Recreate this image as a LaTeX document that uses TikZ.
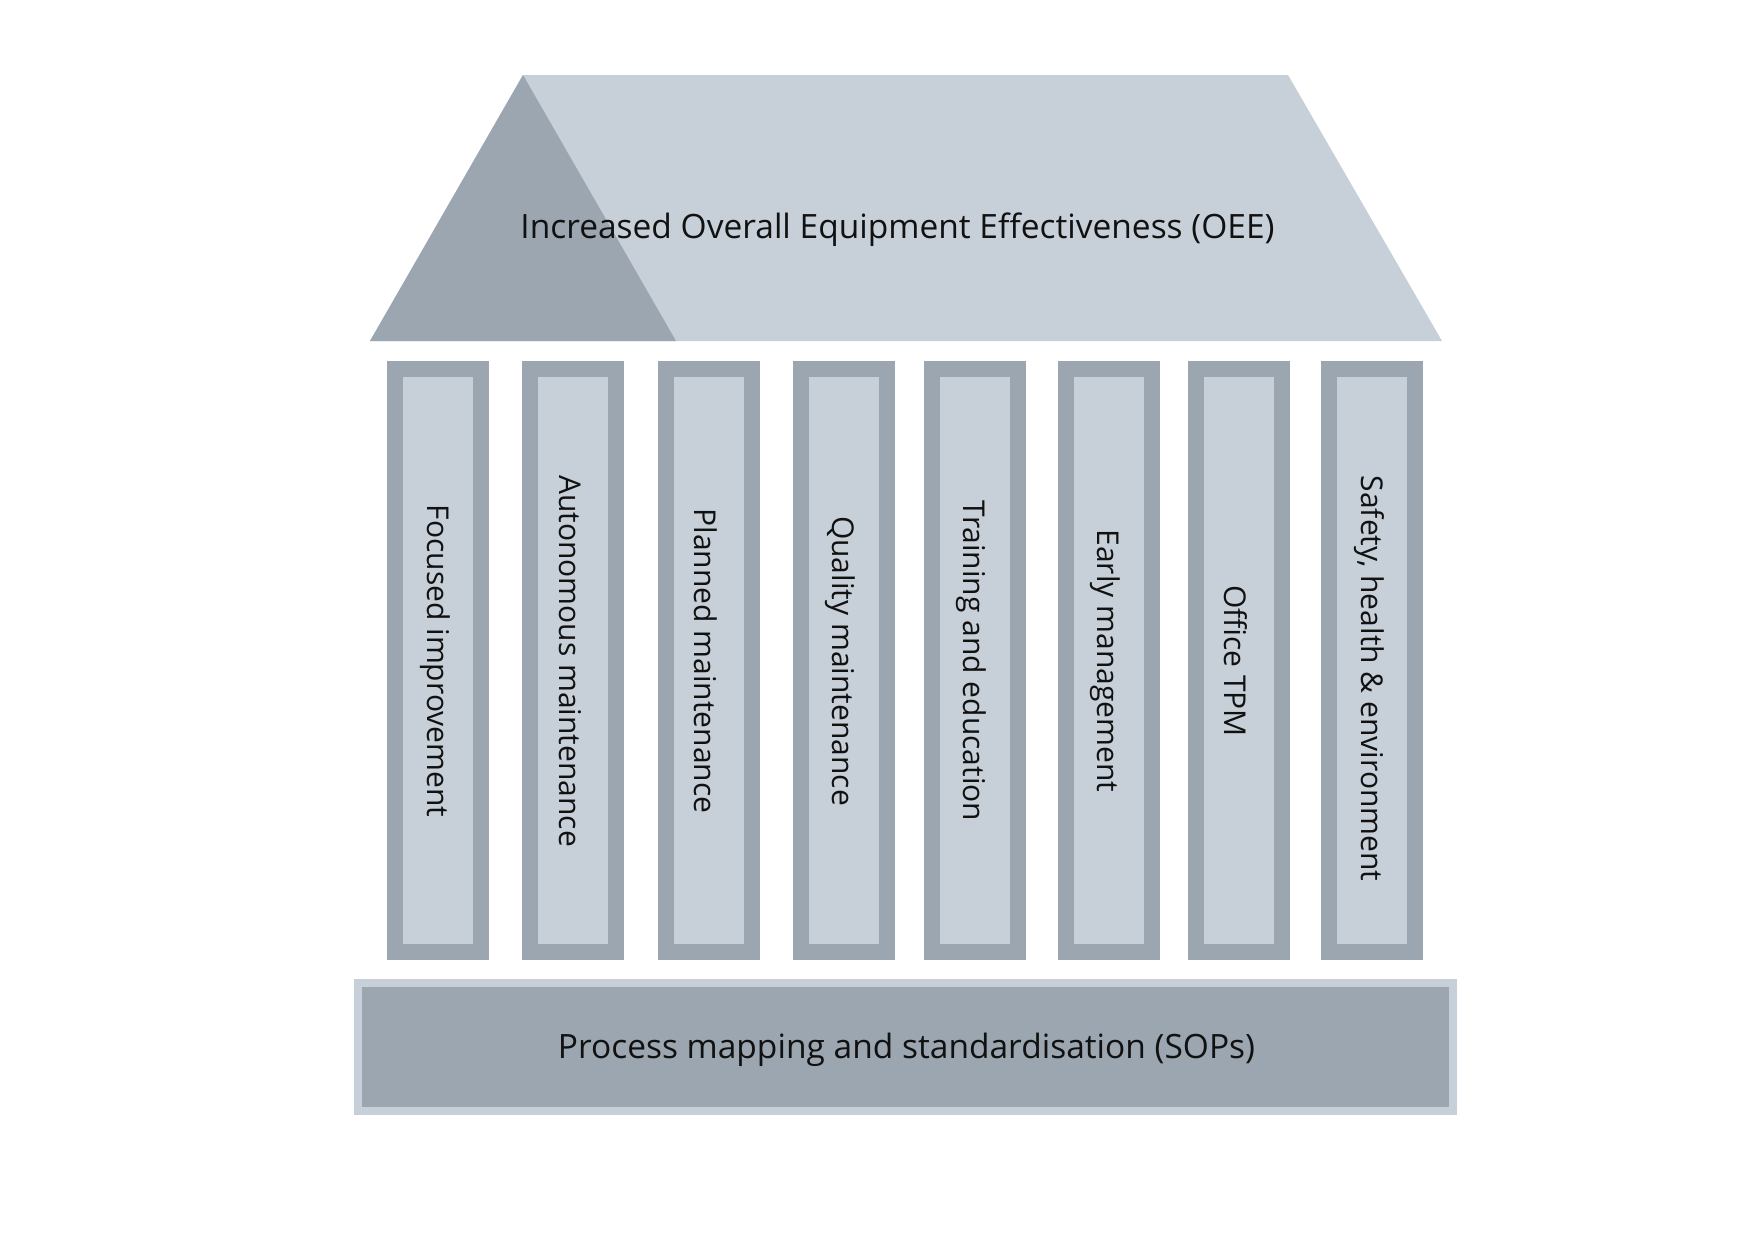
\documentclass[tikz,border=0pt]{standalone}
\usepackage{fontspec}
\setmainfont{Open Sans}
\definecolor{pdark}{HTML}{9BA6B1}
\definecolor{plight}{HTML}{C7CFD8}
\definecolor{ptext}{HTML}{111111}
\begin{document}
\begin{tikzpicture}[x=1pt,y=-1pt,
  pillar/.style={draw=pdark, fill=plight, line width=16pt, minimum width=86pt, minimum height=583pt, inner sep=0pt},
  pillartext/.style={rotate=-90, text=ptext, font=\fontsize{30}{36}\selectfont, inner sep=0pt},
  foundation/.style={draw=plight, fill=pdark, line width=8pt, minimum width=1095pt, minimum height=128pt, inner sep=0pt},
  foundtext/.style={text=ptext, font=\fontsize{33.5}{40}\selectfont, inner sep=0pt},
  rooftext/.style={anchor=base, text=ptext, font=\fontsize{33.5}{40}\selectfont, inner sep=0pt}]
\useasboundingbox (0,0) rectangle (1747,1240);
% roof
\coordinate (rtl) at (523,75);
\coordinate (rtr) at (1288,75);
\coordinate (rbr) at (1442,341);
\coordinate (rbl) at (370,341);
\coordinate (rbm) at (676,341);
\fill[plight] (rtl) -- (rtr) -- (rbr) -- (rbl) -- cycle;
\fill[pdark] (rtl) -- (rbm) -- (rbl) -- cycle;
\node[rooftext] (roof) at (897.5,238) {Increased Overall Equipment Effectiveness (OEE)};
% pillars
\node[pillar] (c1) at (438,660.5) {};
\node[pillar] (c2) at (573,660.5) {};
\node[pillar] (c3) at (708.5,660.5) {};
\node[pillar] (c4) at (843.5,660.5) {};
\node[pillar] (c5) at (974.6,660.5) {};
\node[pillar] (c6) at (1108.5,660.5) {};
\node[pillar] (c7) at (1238.5,660.5) {};
\node[pillar] (c8) at (1372,660.5) {};
\node[pillartext] (t1) at ([xshift=-3pt,yshift=-0.5pt]c1.center) {Focused improvement};
\node[pillartext] (t2) at ([xshift=-3pt,yshift=-0.5pt]c2.center) {Autonomous maintenance};
\node[pillartext] (t3) at ([xshift=-3pt,yshift=-0.5pt]c3.center) {Planned maintenance};
\node[pillartext] (t4) at ([xshift=-3pt,yshift=-0.5pt]c4.center) {Quality maintenance};
\node[pillartext] (t5) at ([xshift=-3pt,yshift=-0.5pt]c5.center) {Training and education};
\node[pillartext] (t6) at ([xshift=-3pt,yshift=-0.5pt]c6.center) {Early management};
\node[pillartext] (t7) at ([xshift=-3pt,yshift=-0.5pt]c7.center) {Office TPM};
\node[pillartext] (t8) at ([xshift=-3pt,yshift=-18pt]c8.center) {Safety, health \& environment};
% foundation
\node[foundation] (found) at (905.5,1047) {};
\node[foundtext] (ftext) at ([xshift=1pt,yshift=-3pt]found.center) {Process mapping and standardisation (SOPs)};
\end{tikzpicture}
\end{document}
